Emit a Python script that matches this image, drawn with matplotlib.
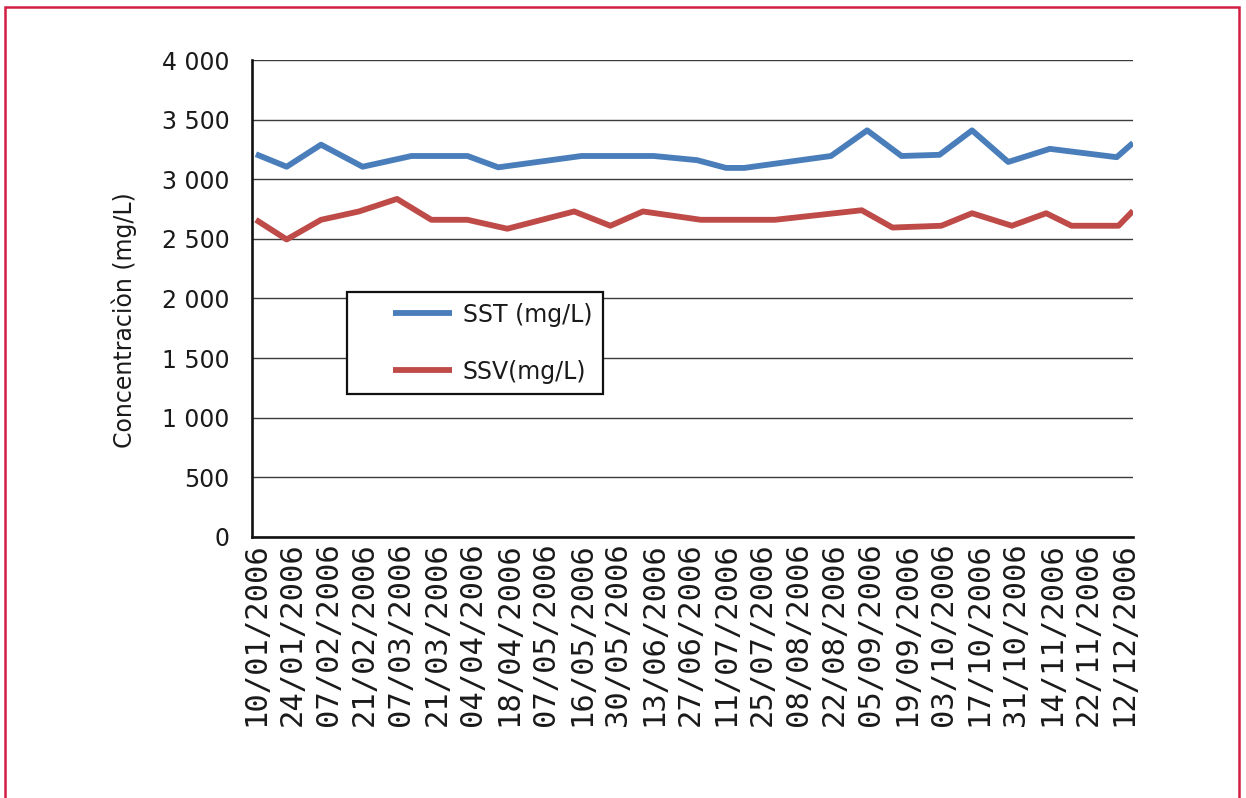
import numpy as np
import matplotlib.pyplot as plt
from matplotlib.legend_handler import HandlerLine2D
from matplotlib.patches import Rectangle
from matplotlib.ticker import FuncFormatter

# fechas de muestreo rotuladas en el eje
date_labels = ['10/01/2006', '24/01/2006', '07/02/2006', '21/02/2006', '07/03/2006',
               '21/03/2006', '04/04/2006', '18/04/2006', '07/05/2006', '16/05/2006',
               '30/05/2006', '13/06/2006', '27/06/2006', '11/07/2006', '25/07/2006',
               '08/08/2006', '22/08/2006', '05/09/2006', '19/09/2006', '03/10/2006',
               '17/10/2006', '31/10/2006', '14/11/2006', '22/11/2006', '12/12/2006']

# posicion de cada medida sobre el eje (en unidades de etiqueta) y valor en mg/L
sst_pos = [0.0, 0.85, 1.8, 2.95, 4.3, 5.85, 6.7, 9.0, 11.0, 12.2, 13.0, 13.5,
           15.9, 16.9, 17.85, 18.9, 19.8, 20.8, 21.95, 23.8, 24.25]
sst = [3210, 3105, 3290, 3105, 3195, 3195, 3100, 3195, 3195, 3160, 3095, 3095,
       3195, 3410, 3195, 3205, 3410, 3145, 3255, 3185, 3305]

ssv_pos = [0.0, 0.85, 1.8, 2.85, 3.9, 4.85, 5.85, 6.95, 8.8, 9.8, 10.7, 12.3,
           14.35, 16.75, 17.6, 18.95, 19.8, 20.9, 21.85, 22.55, 23.85, 24.25]
ssv = [2660, 2495, 2660, 2730, 2835, 2660, 2660, 2585, 2730, 2610, 2730, 2660,
       2660, 2740, 2595, 2610, 2715, 2610, 2715, 2610, 2610, 2735]


class PaddedLine(HandlerLine2D):
    # linea de leyenda que deja un hueco a su izquierda
    def get_xdata(self, legend, xdescent, ydescent, width, height, fontsize):
        xd, xm = super().get_xdata(legend, xdescent, ydescent, width, height, fontsize)
        lead = 0.38 * width
        return np.array([xd[0] + lead, xd[-1]]), xm


plt.rcParams['font.family'] = 'DejaVu Sans'
text_color = '#1a1a1a'

fig = plt.figure(figsize=(12.46, 7.98), dpi=100)
ax = fig.add_axes([0.2022, 0.3271, 0.7071, 0.5977])

ax.plot(sst_pos, sst, color='#4a7ebb', lw=4.2, solid_capstyle='butt',
        solid_joinstyle='round', label='SST (mg/L)')
ax.plot(ssv_pos, ssv, color='#be4b48', lw=4.2, solid_capstyle='butt',
        solid_joinstyle='round', label='SSV(mg/L)')

ax.set_ylim(0, 4000)
ax.set_yticks(np.arange(0, 4001, 500))
ax.yaxis.set_major_formatter(FuncFormatter(lambda v, p: f'{v:,.0f}'.replace(',', ' ')))
ax.set_xlim(-0.11, 24.25)
ax.set_xticks(range(len(date_labels)))
ax.set_xticklabels(date_labels, rotation=90, fontsize=22, color=text_color,
                   family='DejaVu Sans Mono')

ax.grid(axis='y', color='#3c3c3c', lw=1.0)
ax.set_axisbelow(True)
ax.tick_params(axis='y', length=0, pad=16, labelsize=17, labelcolor=text_color)
ax.tick_params(axis='x', length=0, pad=4)
for side in ['top', 'right']:
    ax.spines[side].set_visible(False)
for side in ['left', 'bottom']:
    ax.spines[side].set_linewidth(1.9)
    ax.spines[side].set_color('#111111')

ax.set_ylabel('Concentraciòn (mg/L)', fontsize=17, color=text_color)
ax.yaxis.set_label_coords(-0.13, 0.455)

leg = ax.legend(loc='upper left', bbox_to_anchor=(0.1078, 0.5136), borderaxespad=0,
                fontsize=17, handlelength=4.0, handletextpad=0.45, borderpad=0.45,
                labelspacing=1.4, fancybox=False, framealpha=1, edgecolor='#111111',
                handler_map={plt.Line2D: PaddedLine()})
leg.get_frame().set_linewidth(1.6)
for t in leg.get_texts():
    t.set_color(text_color)

# marco rojo de la figura
fig.patches.append(Rectangle((5 / 1246, -0.05), (1239 - 5) / 1246, 1.05 - 6.5 / 798,
                             transform=fig.transFigure, fill=False,
                             edgecolor='#d21f42', lw=1.8))

fig.savefig('out.png', dpi=100)
